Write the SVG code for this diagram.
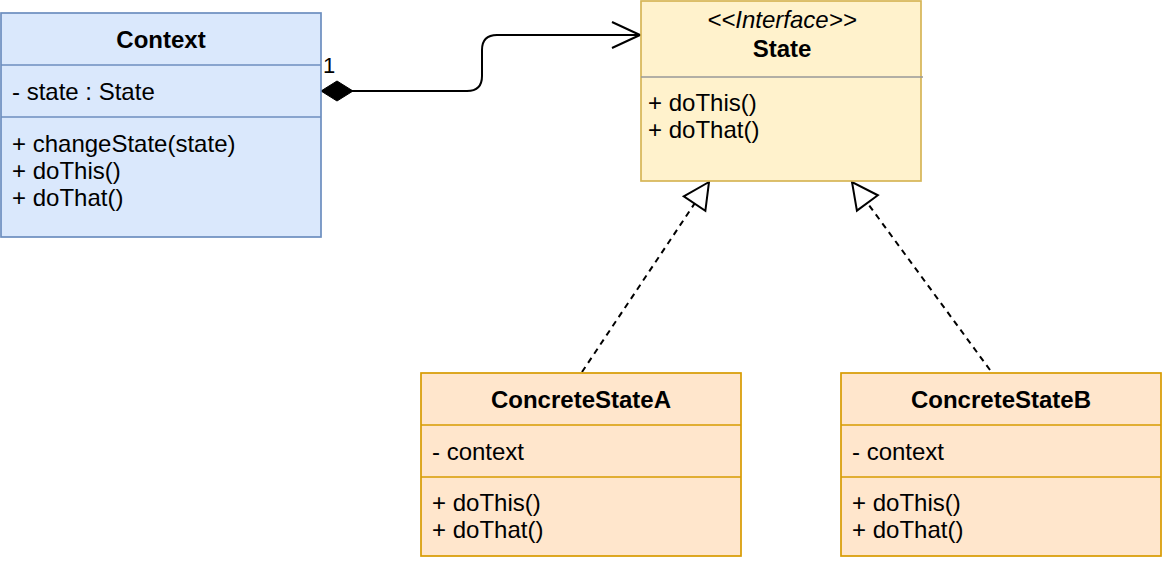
<svg xmlns="http://www.w3.org/2000/svg" width="1162" height="564" viewBox="0 0 1162 564">
<style>
text{font-family:"Liberation Sans",Arial,sans-serif;font-size:24px;fill:#000}
.b{font-weight:bold;text-anchor:middle}
.i{font-style:italic;text-anchor:middle}
.ctx{fill:#dae8fc;stroke:#6c8ebf;stroke-width:1.7}
.ctxl{stroke:#6c8ebf;stroke-width:1.7}
.st{fill:#fff2cc;stroke:#d6b656;stroke-width:1.7}
.cs{fill:#ffe6cc;stroke:#d79b00;stroke-width:1.7}
.csl{stroke:#d79b00;stroke-width:1.7}
.edge{fill:none;stroke:#000;stroke-width:2}
.dash{stroke-dasharray:6 5}
</style>
<defs>
<marker id="diamond" markerUnits="userSpaceOnUse" markerWidth="34" markerHeight="22" viewBox="-1 -1 34 22" refX="0" refY="10" orient="auto">
<path d="M0,10 L16,0 L32,10 L16,20 Z" fill="#000" stroke="#000" stroke-width="1"/>
</marker>
<marker id="open" markerUnits="userSpaceOnUse" markerWidth="32" markerHeight="30" viewBox="-2 -2 32 30" refX="28" refY="13" orient="auto">
<path d="M0,0 L28,13 L0,26" fill="none" stroke="#000" stroke-width="2"/>
</marker>
<marker id="tri" markerUnits="userSpaceOnUse" markerWidth="32" markerHeight="32" viewBox="-2 -2 32 32" refX="26" refY="13" orient="auto">
<path d="M0,0 L26,13 L0,26 Z" fill="#fff" stroke="#000" stroke-width="2"/>
</marker>
</defs>

<g id="connectors">
<path class="edge" d="M321,91 L467,91 Q482,91 482,76 L482,50 Q482,35 497,35 L640,35" marker-start="url(#diamond)" marker-end="url(#open)"/>
<text x="323" y="73" style="font-size:22px">1</text>
<line class="edge dash" x1="582" y1="372" x2="709" y2="182" marker-end="url(#tri)"/>
<line class="edge dash" x1="990" y1="370" x2="852" y2="182" marker-end="url(#tri)"/>
</g>

<g id="Context">
<rect class="ctx" x="1" y="13" width="320" height="224"/>
<line class="ctxl" x1="1" y1="65" x2="321" y2="65"/>
<line class="ctxl" x1="1" y1="117" x2="321" y2="117"/>
<text class="b" x="161" y="48">Context</text>
<text x="12" y="100">- state : State</text>
<text x="12" y="152">+ changeState(state)</text>
<text x="12" y="179">+ doThis()</text>
<text x="12" y="206">+ doThat()</text>
</g>

<g id="State">
<rect class="st" x="641" y="1" width="280" height="180"/>
<line x1="641" y1="77" x2="923" y2="77" stroke="#999" stroke-width="1.7"/>
<text class="i" x="782" y="28">&lt;&lt;Interface&gt;&gt;</text>
<text class="b" x="782" y="57">State</text>
<text x="648" y="111">+ doThis()</text>
<text x="648" y="138">+ doThat()</text>
</g>

<g id="ConcreteStateA">
<rect class="cs" x="421" y="373" width="320" height="183"/>
<line class="csl" x1="421" y1="425" x2="741" y2="425"/>
<line class="csl" x1="421" y1="477" x2="741" y2="477"/>
<text class="b" x="581" y="408">ConcreteStateA</text>
<text x="432" y="460">- context</text>
<text x="432" y="511">+ doThis()</text>
<text x="432" y="538">+ doThat()</text>
</g>

<g id="ConcreteStateB">
<rect class="cs" x="841" y="373" width="320" height="183"/>
<line class="csl" x1="841" y1="425" x2="1161" y2="425"/>
<line class="csl" x1="841" y1="477" x2="1161" y2="477"/>
<text class="b" x="1001" y="408">ConcreteStateB</text>
<text x="852" y="460">- context</text>
<text x="852" y="511">+ doThis()</text>
<text x="852" y="538">+ doThat()</text>
</g>
</svg>
